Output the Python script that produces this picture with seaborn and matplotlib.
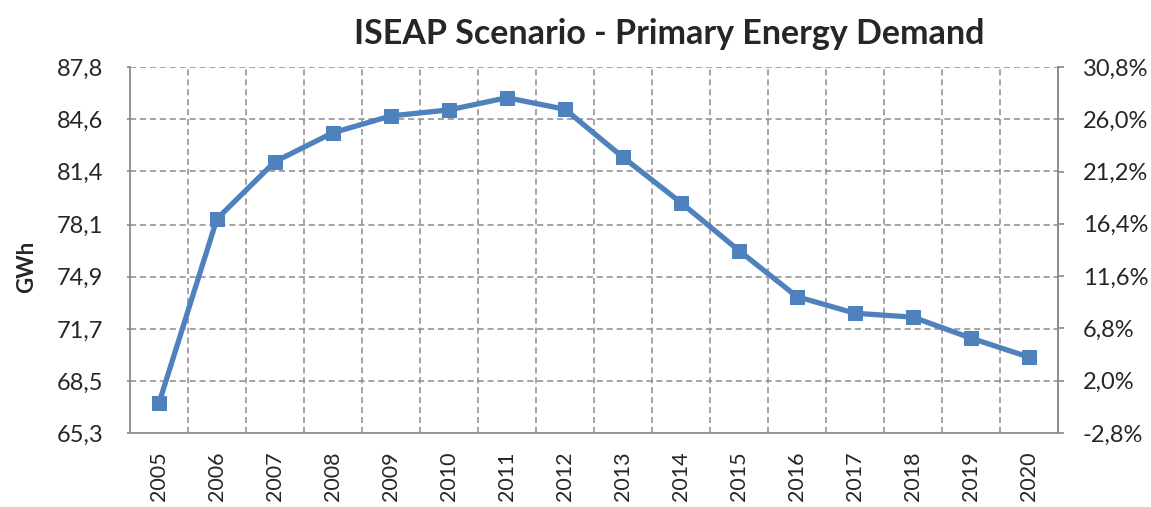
import matplotlib
matplotlib.use("Agg")
import matplotlib.pyplot as plt
import seaborn as sns
import numpy as np

years = ["2005", "2006", "2007", "2008", "2009", "2010", "2011", "2012",
         "2013", "2014", "2015", "2016", "2017", "2018", "2019", "2020"]
demand_gwh = [67.13, 78.46, 81.98, 83.76, 84.79, 85.16, 85.91, 85.20,
              82.25, 79.46, 76.51, 73.68, 72.66, 72.42, 71.13, 69.96]
left_ticks = [65.3, 68.5, 71.7, 74.9, 78.1, 81.4, 84.6, 87.8]
left_labels = ["65,3", "68,5", "71,7", "74,9", "78,1", "81,4", "84,6", "87,8"]
right_ticks = [-2.8, 2.0, 6.8, 11.6, 16.4, 21.2, 26.0, 30.8]
right_labels = ["-2,8%", "2,0%", "6,8%", "11,6%", "16,4%", "21,2%", "26,0%", "30,8%"]

title = "ISEAP Scenario - Primary Energy Demand"
ylabel = "GWh"

sns.set_theme(style="white")
plt.rcParams["font.family"] = ["Lato", "DejaVu Sans"]

line_color = "#4F81BD"
grid_color = "#8C8C8C"
spine_color = "#8C8C8C"

fig = plt.figure(figsize=(11.51, 5.07), dpi=100)
ax = fig.add_axes([0.1129, 0.146, 0.8063, 0.7219])

x = np.arange(len(years))
sns.lineplot(x=x, y=demand_gwh, ax=ax, color=line_color, linewidth=3.8,
             marker="s", markersize=10, markeredgecolor=line_color,
             markerfacecolor=line_color, zorder=5)

ax.set_xlim(-0.5, len(years) - 0.5)
ax.set_ylim(left_ticks[0], left_ticks[-1])
ax.set_yticks(left_ticks)
ax.set_yticklabels(left_labels, fontsize=17)
ax.set_xticks(x)
ax.set_xticklabels(years, rotation=90, fontsize=15.5)
ax.tick_params(axis="x", length=0, pad=13)
ax.tick_params(axis="y", length=2, color=spine_color, direction="out", left=True, pad=17)

ax.grid(False)
for yv in left_ticks[1:]:
    ax.axhline(yv, color=grid_color, linestyle=(0, (4, 2.5)), linewidth=1.1, zorder=1)
for xv in np.arange(0.5, len(years) - 1, 1.0):
    ax.axvline(xv, color=grid_color, linestyle=(0, (4, 2.5)), linewidth=1.1, zorder=1)

for side in ["left", "bottom", "right"]:
    ax.spines[side].set_color(spine_color)
    ax.spines[side].set_linewidth(1.3)
ax.spines["top"].set_visible(False)

ax.set_ylabel(ylabel, fontsize=16, fontweight="bold")
ax.yaxis.set_label_coords(-0.1, 0.4536)
ax.set_xlabel("")

ax2 = ax.twinx()
ax2.set_ylim(right_ticks[0], right_ticks[-1])
ax2.set_yticks(right_ticks)
ax2.set_yticklabels(right_labels, fontsize=17)
ax2.tick_params(axis="y", length=4.5, color=spine_color, direction="out", right=True, pad=13.5)
ax2.grid(False)
for side in ["left", "bottom", "top"]:
    ax2.spines[side].set_visible(False)
ax2.spines["right"].set_color(spine_color)
ax2.spines["right"].set_linewidth(1.3)

fig.text(0.5817, 0.933, title, ha="center", va="center", fontsize=24.5, fontweight="bold")

fig.savefig("out.png", dpi=100)
